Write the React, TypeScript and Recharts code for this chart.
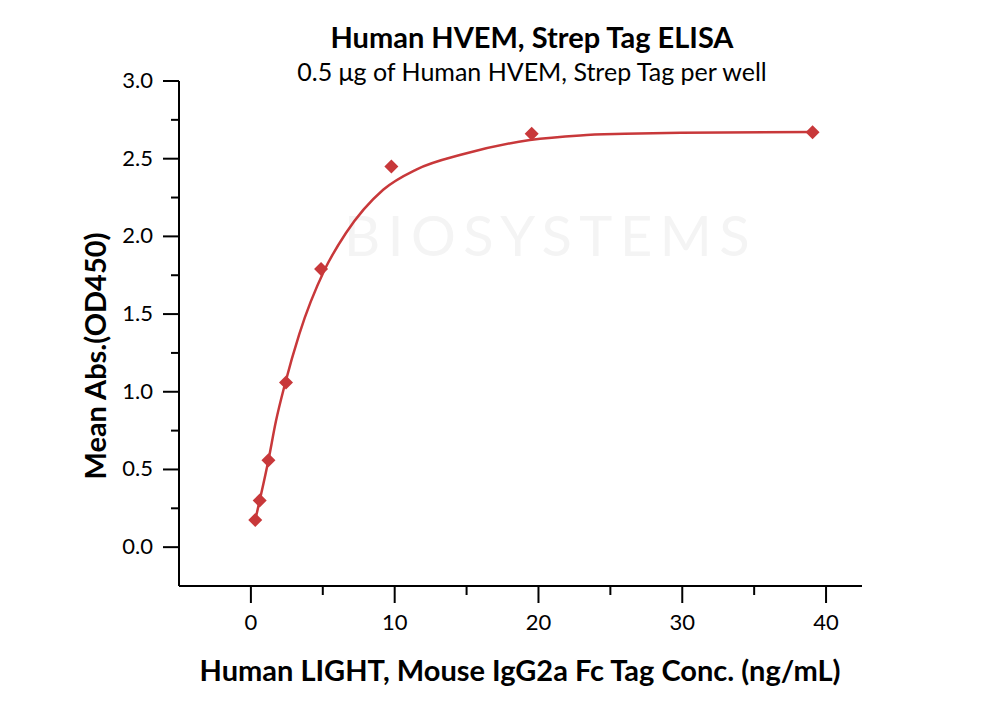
import React from "react";
import { ComposedChart, Line, Scatter, XAxis, YAxis } from "recharts";

// measured points (ng/mL vs OD450)
const concentrations = [0.305, 0.61, 1.22, 2.44, 4.88, 9.77, 19.53, 39.06];
const meanAbs = [0.175, 0.3, 0.56, 1.06, 1.79, 2.45, 2.66, 2.67];

// fitted curve
const fitConc = [0.305, 0.61, 1.22, 1.74, 2.37, 3.36, 5.1, 6.6, 9.2, 11.5, 14.8, 19.4, 22.9, 26.0, 29.9, 39.06];
const fitAbs = [0.175, 0.3, 0.56, 0.81, 1.05, 1.37, 1.78, 2.02, 2.3, 2.43, 2.53, 2.62, 2.65, 2.66, 2.667, 2.672];

const xTicks = [0, 5, 10, 15, 20, 25, 30, 35, 40];
const yTicks = [0, 0.25, 0.5, 0.75, 1, 1.25, 1.5, 1.75, 2, 2.25, 2.5, 2.75, 3];

const RED = "#c8383a";
const FONT = "Lato, 'Open Sans', sans-serif";

const points = concentrations.map((x, i) => ({ x, y: meanAbs[i] }));
const fit = fitConc.map((x, i) => ({ x, y: fitAbs[i] }));

const XTick = (props: any) => {
  const { x, y, payload } = props;
  const major = payload.value % 10 === 0;
  return (
    <g>
      <line x1={x} x2={x} y1={y} y2={y + (major ? 17 : 9)} stroke="#000" strokeWidth={2} />
      {major && (
        <text x={x} y={y + 44} textAnchor="middle" fontSize={22} fontFamily={FONT} fill="#000">
          {payload.value}
        </text>
      )}
    </g>
  );
};

const YTick = (props: any) => {
  const { x, y, payload } = props;
  const major = Math.abs((payload.value * 2) % 1) < 1e-6;
  return (
    <g>
      <line x1={x - (major ? 16 : 8)} x2={x} y1={y} y2={y} stroke="#000" strokeWidth={2} />
      {major && (
        <text x={x - 26} y={y + 7} textAnchor="end" fontSize={22} fontFamily={FONT} fill="#000">
          {payload.value.toFixed(1)}
        </text>
      )}
    </g>
  );
};

const Diamond = (props: any) => {
  const { cx, cy } = props;
  const r = 7;
  return (
    <polygon
      points={`${cx},${cy - r} ${cx + r},${cy} ${cx},${cy + r} ${cx - r},${cy}`}
      fill={RED}
    />
  );
};

export default function App() {
  return (
    <div style={{ position: "absolute", left: 0, top: 0, width: 1000, height: 702, background: "#fff" }}>
      <div
        style={{
          position: "absolute",
          left: 344,
          top: 201,
          fontFamily: FONT,
          fontSize: 56,
          letterSpacing: 7.5,
          color: "#f4f4f4",
        }}
      >
        BIOSYSTEMS
      </div>
      <ComposedChart
        width={1000}
        height={702}
        margin={{ top: 81, right: 138, bottom: 86, left: 119 }}
        style={{ position: "absolute", left: 0, top: 0 }}
      >
        <XAxis
          dataKey="x"
          type="number"
          domain={[-5, 42.5]}
          ticks={xTicks}
          interval={0}
          allowDataOverflow
          tick={<XTick />}
          tickLine={false}
          tickSize={0}
          tickMargin={0}
          axisLine={{ stroke: "#000", strokeWidth: 2 }}
        />
        <YAxis
          type="number"
          width={60}
          domain={[-0.25, 3]}
          ticks={yTicks}
          interval={0}
          allowDataOverflow
          tick={<YTick />}
          tickLine={false}
          tickSize={0}
          tickMargin={0}
          axisLine={{ stroke: "#000", strokeWidth: 2 }}
        />
        <Line
          data={fit}
          dataKey="y"
          type="monotone"
          stroke={RED}
          strokeWidth={2.5}
          dot={false}
          activeDot={false}
          isAnimationActive={false}
        />
        <Scatter data={points} dataKey="y" shape={<Diamond />} isAnimationActive={false} />
      </ComposedChart>
      <svg width={1000} height={702} style={{ position: "absolute", left: 0, top: 0, pointerEvents: "none" }}>
        <text x={532} y={48} textAnchor="middle" fontFamily={FONT} fontWeight={700} fontSize={29} fill="#000">
          Human HVEM, Strep Tag ELISA
        </text>
        <text x={532} y={81} textAnchor="middle" fontFamily={FONT} fontSize={25} fill="#000">
          0.5 μg of Human HVEM, Strep Tag per well
        </text>
        <text
          x={0}
          y={0}
          transform="translate(106,356) rotate(-90)"
          textAnchor="middle"
          fontFamily={FONT}
          fontWeight={700}
          fontSize={29}
          fill="#000"
        >
          Mean Abs.(OD450)
        </text>
        <text x={520} y={681} textAnchor="middle" fontFamily={FONT} fontWeight={700} fontSize={29} fill="#000">
          Human LIGHT, Mouse IgG2a Fc Tag Conc. (ng/mL)
        </text>
      </svg>
    </div>
  );
}
